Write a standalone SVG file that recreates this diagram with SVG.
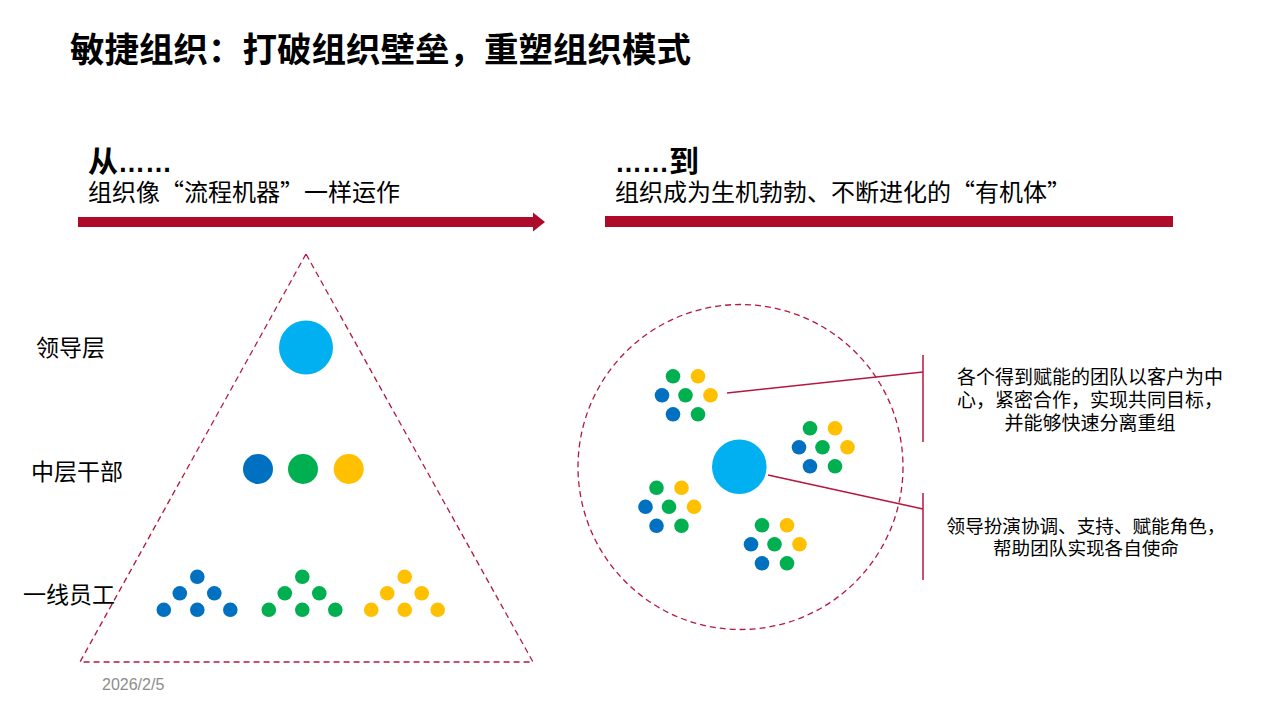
<svg xmlns="http://www.w3.org/2000/svg" width="1280" height="720" viewBox="0 0 1280 720">
<style>
.t{font-family:"Noto Sans CJK SC","Liberation Sans",sans-serif;fill:#000}
.title{font-size:34.5px;font-weight:700}
.big{font-size:30px;font-weight:700}
.dots{font-family:"Liberation Sans",sans-serif;font-size:27px}
.sub{font-size:24px}
.lbl{font-size:23px}
.note{font-size:19px;text-anchor:middle}
.note2{font-size:18.6px;text-anchor:middle}
.date{font-family:"Liberation Sans",sans-serif;font-size:16px;fill:#8c8c8c}
.dash{fill:none;stroke:#B5173F;stroke-width:1.3;stroke-dasharray:6 4}
.ln{stroke:#B5173F;stroke-width:1.5;fill:none}
.b{fill:#0070C0}.g{fill:#00B050}.y{fill:#FFC000}.c{fill:#00B0F0}
</style>
<defs>
<g id="team">
<circle cx="-12.5" cy="-19" r="7.3" class="g"/>
<circle cx="12.5" cy="-19" r="7.3" class="y"/>
<circle cx="-23.5" cy="0" r="7.3" class="b"/>
<circle cx="0" cy="0" r="7.3" class="g"/>
<circle cx="25" cy="0" r="7.3" class="y"/>
<circle cx="-12.5" cy="19" r="7.3" class="b"/>
<circle cx="12.5" cy="19" r="7.3" class="g"/>
</g>
<g id="tri">
<circle cx="0" cy="-16.5" r="7.3"/>
<circle cx="-17.5" cy="0" r="7.3"/>
<circle cx="17" cy="0" r="7.3"/>
<circle cx="-33.5" cy="16.5" r="7.3"/>
<circle cx="0" cy="16.5" r="7.3"/>
<circle cx="33" cy="16.5" r="7.3"/>
</g>
</defs>
<rect width="1280" height="720" fill="#fff"/>
<g id="title"><text class="t title" x="70" y="62">敏捷组织：打破组织壁垒，重塑组织模式</text></g>

<g id="from">
<text class="t big" x="88" y="172">从<tspan class="dots">……</tspan></text>
<text class="t sub" x="88" y="201">组织像“流程机器”一样运作</text>
</g>
<g id="to">
<text class="t big" x="615" y="172"><tspan class="dots">……</tspan>到</text>
<text class="t sub" x="615" y="201">组织成为生机勃勃、不断进化的“有机体”</text>
</g>

<g id="arrow-left">
<rect x="78" y="217" width="456" height="10" fill="#AE0B2B"/>
<polygon points="533,212.5 545,222 533,231.5" fill="#AE0B2B"/>
</g>
<g id="bar-right">
<rect x="605" y="216" width="568" height="11" fill="#AE0B2B"/>
</g>

<g id="pyramid">
<polygon class="dash" points="306,254 80,662 533,662"/>
</g>
<g id="labels-left">
<text class="t lbl" x="36" y="356">领导层</text>
<text class="t lbl" x="31" y="480">中层干部</text>
<text class="t lbl" x="23" y="603">一线员工</text>
</g>
<g id="leader"><circle cx="306" cy="347.5" r="27" class="c"/></g>
<g id="middle">
<circle cx="258" cy="469" r="15" class="b"/>
<circle cx="303" cy="469" r="15" class="g"/>
<circle cx="348.7" cy="469" r="15" class="y"/>
</g>
<g id="frontline">
<use href="#tri" x="197.3" y="593.3" class="b"/>
<use href="#tri" x="302.3" y="593.3" class="g"/>
<use href="#tri" x="404.7" y="593.3" class="y"/>
</g>

<g id="organism">
<circle class="dash" cx="740.5" cy="467" r="162.5"/>
</g>
<g id="team1"><use href="#team" x="685.5" y="395.3"/></g>
<g id="team2"><use href="#team" x="822.5" y="447.3"/></g>
<g id="team3"><use href="#team" x="669" y="506.8"/></g>
<g id="team4"><use href="#team" x="774.5" y="544.3"/></g>
<g id="leader-center"><circle cx="739.3" cy="466.7" r="27.3" class="c"/></g>

<g id="connectors">
<line class="ln" x1="727" y1="393" x2="923" y2="372"/>
<line class="ln" x1="768" y1="475" x2="923" y2="509"/>
<line class="ln" x1="923" y1="355" x2="923" y2="442"/>
<line class="ln" x1="923" y1="493" x2="923" y2="580"/>
</g>

<g id="note-teams">
<text class="t note" x="1090" y="384">各个得到赋能的团队以客户为中</text>
<text class="t note" x="1090" y="407">心，紧密合作，实现共同目标，</text>
<text class="t note" x="1090" y="430">并能够快速分离重组</text>
</g>
<g id="note-leader">
<text class="t note2" x="1086" y="533">领导扮演协调、支持、赋能角色，</text>
<text class="t note2" x="1086" y="555">帮助团队实现各自使命</text>
</g>

<g id="date"><text class="date" x="102" y="690">2026/2/5</text></g>
</svg>
